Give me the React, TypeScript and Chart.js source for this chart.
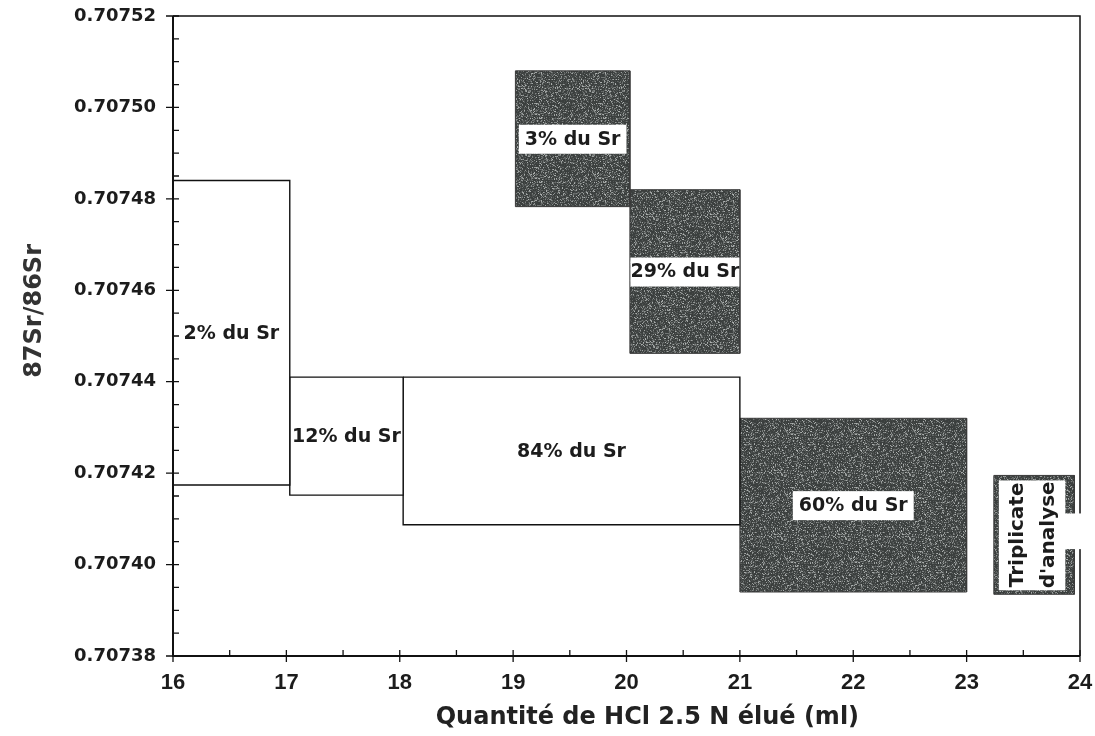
import React, { useEffect, useRef } from 'react';
import { Chart, registerables } from 'chart.js';

Chart.register(...registerables);

// ---- Data ----
const boxLabels = ['2% du Sr', '12% du Sr', '84% du Sr', '3% du Sr', '29% du Sr', '60% du Sr'];
const boxXStart = [16.0, 17.03, 18.03, 19.02, 20.03, 21.0];
const boxXEnd = [17.03, 18.03, 21.0, 20.03, 21.0, 23.0];
const boxYTop = [0.707484, 0.707441, 0.707441, 0.707508, 0.707482, 0.707432];
const boxYBottom = [0.7074174, 0.7074152, 0.7074087, 0.7074783, 0.7074462, 0.707394];
const boxShaded = [false, false, false, true, true, true];

const tripLabel = ['Triplicate', "d'analyse"];
const tripX = [23.24, 23.95];
const tripY = [0.7073935, 0.7074195];

const xTicks = [16, 17, 18, 19, 20, 21, 22, 23, 24];
const yTicks = [0.70738, 0.7074, 0.70742, 0.70744, 0.70746, 0.70748, 0.7075, 0.70752];
const xMinorStep = 0.5;
const yMinorStep = 0.000005;

const xTitle = 'Quantité de HCl 2.5 N élué (ml)';
const yTitle = '87Sr/86Sr';

const FONT = "'DejaVu Sans', 'Liberation Sans', sans-serif";

function makePattern(ctx: CanvasRenderingContext2D) {
  const size = 64;
  const c = document.createElement('canvas');
  c.width = size;
  c.height = size;
  const g = c.getContext('2d')!;
  const img = g.createImageData(size, size);
  for (let i = 0; i < size * size; i++) {
    let h = Math.imul(i + 17, 2654435761) >>> 0;
    h ^= h >>> 15;
    h = Math.imul(h, 2246822519) >>> 0;
    h ^= h >>> 13;
    h = Math.imul(h, 3266489917) >>> 0;
    h ^= h >>> 16;
    const r = (h & 255) / 255;
    const v = 58 + Math.round(r * r * r * r * 120);
    img.data[i * 4] = v;
    img.data[i * 4 + 1] = v + 4;
    img.data[i * 4 + 2] = v + 3;
    img.data[i * 4 + 3] = 255;
  }
  g.putImageData(img, 0, 0);
  return ctx.createPattern(c, 'repeat')!;
}

function rectPoints(x0: number, x1: number, yb: number, yt: number) {
  return [
    { x: x0, y: yt },
    { x: x1, y: yt },
    { x: x1, y: yb },
    { x: x0, y: yb },
    { x: x0, y: yt },
  ];
}

export default function App() {
  const ref = useRef<HTMLCanvasElement | null>(null);

  useEffect(() => {
    const canvas = ref.current!;
    const ctx = canvas.getContext('2d')!;
    const pattern = makePattern(ctx);

    const datasets: any[] = [];
    boxLabels.forEach((lab, i) => {
      datasets.push({
        label: lab,
        data: rectPoints(boxXStart[i], boxXEnd[i], boxYBottom[i], boxYTop[i]),
        showLine: true,
        fill: 'shape',
        backgroundColor: boxShaded[i] ? pattern : '#ffffff',
        borderColor: boxShaded[i] ? '#3a3a3a' : '#111111',
        borderWidth: boxShaded[i] ? 1 : 1.4,
        pointRadius: 0,
        tension: 0,
      });
    });
    datasets.push({
      label: 'Triplicate',
      data: rectPoints(tripX[0], tripX[1], tripY[0], tripY[1]),
      showLine: true,
      fill: 'shape',
      backgroundColor: pattern,
      borderColor: '#3a3a3a',
      borderWidth: 1,
      pointRadius: 0,
      tension: 0,
    });

    const decor = {
      id: 'decor',
      afterDatasetsDraw(chart: any) {
        const c = chart.ctx as CanvasRenderingContext2D;
        const xs = chart.scales.x;
        const ys = chart.scales.y;
        c.save();
        // box labels
        c.font = `bold 19px ${FONT}`;
        c.textAlign = 'center';
        c.textBaseline = 'middle';
        boxLabels.forEach((lab, i) => {
          const px0 = xs.getPixelForValue(boxXStart[i]);
          const px1 = xs.getPixelForValue(boxXEnd[i]);
          const py0 = ys.getPixelForValue(boxYTop[i]);
          const py1 = ys.getPixelForValue(boxYBottom[i]);
          const cx = (px0 + px1) / 2;
          const cy = (py0 + py1) / 2;
          const tw = c.measureText(lab).width;
          if (boxShaded[i]) {
            const w = Math.min(tw + 12, px1 - px0 - 1);
            c.fillStyle = '#ffffff';
            c.fillRect(cx - w / 2, cy - 14, w, 29);
          }
          c.fillStyle = '#1c1c1c';
          c.fillText(lab, cx, cy + 1);
        });
        // triplicate frame interior
        const tx0 = xs.getPixelForValue(tripX[0]);
        const tx1 = xs.getPixelForValue(tripX[1]);
        const ty0 = ys.getPixelForValue(tripY[1]);
        const ty1 = ys.getPixelForValue(tripY[0]);
        c.fillStyle = '#ffffff';
        c.fillRect(tx0 + 5, ty0 + 5, tx1 - tx0 - 14, ty1 - ty0 - 9);
        c.translate((tx0 + tx1 - 4) / 2, (ty0 + ty1) / 2);
        c.rotate(-Math.PI / 2);
        c.fillStyle = '#1c1c1c';
        c.font = `bold 20px ${FONT}`;
        c.fillText(tripLabel[0], 0, -14);
        c.fillText(tripLabel[1], 0, 17);
        c.restore();
      },
      afterDraw(chart: any) {
        const c = chart.ctx as CanvasRenderingContext2D;
        const xs = chart.scales.x;
        const ys = chart.scales.y;
        const { left, right, top, bottom } = chart.chartArea;
        c.save();
        c.strokeStyle = '#111111';
        // frame
        c.lineWidth = 1.5;
        c.beginPath();
        c.moveTo(left, top);
        c.lineTo(right, top);
        c.lineTo(right, bottom);
        c.stroke();
        c.lineWidth = 2;
        c.beginPath();
        c.moveTo(left, top);
        c.lineTo(left, bottom);
        c.lineTo(right, bottom);
        c.stroke();
        // notch on triplicate frame
        const ty0 = ys.getPixelForValue(tripY[1]);
        const ty1 = ys.getPixelForValue(tripY[0]);
        const tx1 = xs.getPixelForValue(tripX[1]);
        const ny = ty0 + (ty1 - ty0) * 0.32;
        c.fillStyle = '#ffffff';
        c.fillRect(tx1 - 10, ny, 18, (ty1 - ty0) * 0.3);
        // ticks
        c.strokeStyle = '#111111';
        c.lineWidth = 1.3;
        c.beginPath();
        const yMin = yTicks[0];
        const yMax = yTicks[yTicks.length - 1];
        const nY = Math.round((yMax - yMin) / yMinorStep);
        for (let k = 0; k <= nY; k++) {
          const py = ys.getPixelForValue(yMin + k * yMinorStep);
          if (k % 4 === 0) {
            c.moveTo(left - 7, py);
            c.lineTo(left + 6, py);
          } else {
            c.moveTo(left, py);
            c.lineTo(left + 6, py);
          }
        }
        const xMin = xTicks[0];
        const xMax = xTicks[xTicks.length - 1];
        const nX = Math.round((xMax - xMin) / xMinorStep);
        for (let k = 0; k <= nX; k++) {
          const px = xs.getPixelForValue(xMin + k * xMinorStep);
          if (k % 2 === 0) {
            c.moveTo(px, bottom - 6);
            c.lineTo(px, bottom + 6);
          } else {
            c.moveTo(px, bottom - 6);
            c.lineTo(px, bottom);
          }
        }
        c.stroke();
        c.restore();
      },
    };

    const chart = new Chart(canvas, {
      type: 'scatter',
      data: { datasets },
      options: {
        animation: false,
        responsive: false,
        events: [],
        layout: { padding: { left: 0, top: 16, right: 15, bottom: 0 } },
        plugins: {
          legend: { display: false },
          tooltip: { enabled: false },
        },
        scales: {
          x: {
            type: 'linear',
            min: 16,
            max: 24,
            afterBuildTicks: (s: any) => {
              s.ticks = xTicks.map((v) => ({ value: v }));
            },
            afterFit: (s: any) => {
              s.height = 80;
              s.paddingLeft = 0;
              s.paddingRight = 0;
            },
            grid: { display: false, drawTicks: false },
            border: { display: false },
            ticks: {
              padding: 14,
              color: '#1c1c1c',
              font: { family: "'Liberation Sans Narrow', 'Liberation Sans', sans-serif", size: 22, weight: 'bold' },
              callback: (v: any) => String(v),
            },
            title: {
              display: true,
              text: '     ' + xTitle,
              color: '#222222',
              font: { family: FONT, size: 24, weight: 'bold' },
              padding: { top: 0, bottom: 4 },
            },
          },
          y: {
            type: 'linear',
            min: 0.70738,
            max: 0.70752,
            afterBuildTicks: (s: any) => {
              s.ticks = yTicks.map((v) => ({ value: v }));
            },
            afterFit: (s: any) => {
              s.width = 173;
              s.paddingTop = 0;
              s.paddingBottom = 0;
            },
            grid: { display: false, drawTicks: false },
            border: { display: false },
            ticks: {
              padding: 17,
              color: '#1c1c1c',
              font: { family: FONT, size: 18, weight: 'bold' },
              callback: (v: any) => Number(v).toFixed(5),
            },
            title: {
              display: true,
              text: '      ' + yTitle,
              color: '#333333',
              font: { family: FONT, size: 24, weight: 'bold' },
              padding: { top: 20, bottom: 0 },
            },
          },
        },
      },
      plugins: [decor],
    } as any);

    return () => chart.destroy();
  }, []);

  return (
    <div style={{ position: 'absolute', left: 0, top: 0, width: 1095, height: 736, background: '#ffffff' }}>
      <canvas ref={ref} width={1095} height={736} style={{ display: 'block' }} />
    </div>
  );
}
